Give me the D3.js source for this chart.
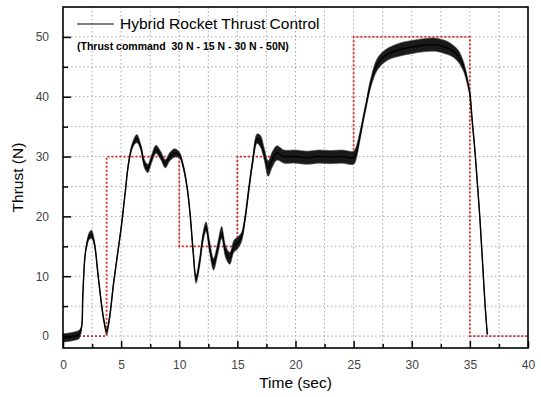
<!DOCTYPE html>
<html>
<head>
<meta charset="utf-8">
<script src="https://cdn.jsdelivr.net/npm/d3@7"></script>
<style>
  body { margin: 0; background: #fff; }
  svg { font-family: "Liberation Sans", Arial, sans-serif; }
</style>
</head>
<body>
<svg width="541" height="397"></svg>
<script>
// thrust trace (sec, N) + half width of the noise band
const time = [0, 0.5, 1.0, 1.4, 1.6, 1.7, 1.9, 2.1, 2.25, 2.45, 2.7, 3.0, 3.3, 3.5, 3.75, 4.0, 4.35, 4.7, 5.05, 5.35, 5.65,
  6.0, 6.35, 6.7, 7.0, 7.3, 7.6, 8.0, 8.4, 8.8, 9.2, 9.6, 10.0, 10.35, 10.7, 10.95, 11.2, 11.45, 11.8, 12.0, 12.3,
  12.6, 12.95, 13.3, 13.65, 14.0, 14.35, 14.7, 15.0, 15.35, 15.65, 15.95, 16.3, 16.7, 17.0, 17.3, 17.65, 18.0, 18.4,
  19.0, 20.0, 21.0, 22.0, 23.0, 24.0, 25.0, 25.2, 25.5, 25.8, 26.1, 26.5, 27.0, 27.5, 28.0, 29.0, 30.0, 31.0, 32.0,
  33.0, 33.5, 34.0, 34.5, 34.8, 35.0, 35.2, 35.45, 35.87, 36.3, 36.5];
const thrust = [-0.3, -0.2, 0.0, 0.3, 1.5, 6.5, 13.5, 15.8, 16.7, 17.0, 15.5, 10.5, 5.5, 2.8, 0.7, 3.0, 8.8, 13.8, 18.8, 24.0, 29.0,
  32.0, 33.0, 31.5, 28.8, 28.0, 29.5, 31.2, 30.2, 28.8, 30.0, 30.6, 30.3, 28.3, 24.5, 20.0, 14.0, 9.5, 13.0, 16.0, 18.3,
  15.0, 12.0, 14.5, 17.3, 14.0, 13.0, 15.0, 15.5, 16.5, 19.5, 24.0, 29.0, 33.0, 32.5, 30.5, 28.0, 29.5, 30.6,
  30.0, 30.0, 29.8, 30.0, 29.9, 30.0, 29.8, 30.5, 33.0, 36.0, 38.9, 42.5, 45.3, 46.5, 47.2, 47.9, 48.3, 48.6, 48.7,
  48.2, 47.7, 46.8, 44.8, 42.5, 40.5, 36.0, 30.6, 19.4, 5.4, 0.3];
const noise = [0.7, 0.7, 0.7, 0.7, 0.3, 0.25, 0.3, 0.5, 0.6, 0.7, 0.5, 0.3, 0.25, 0.3, 0.5, 0.3, 0.25, 0.25, 0.25, 0.25, 0.3,
  0.5, 0.7, 0.5, 0.7, 0.7, 0.7, 0.7, 0.7, 0.7, 0.7, 0.7, 0.5, 0.4, 0.3, 0.4, 0.5, 0.7, 0.8, 0.8, 0.8,
  1.0, 1.0, 1.0, 1.0, 1.0, 1.0, 1.0, 1.0, 0.8, 0.6, 0.6, 0.6, 0.8, 1.0, 1.0, 1.3, 1.3, 1.2,
  1.1, 1.1, 1.1, 1.1, 1.1, 1.1, 1.1, 1.1, 0.8, 0.6, 0.6, 0.8, 1.0, 1.0, 1.0, 1.1, 1.1, 1.1, 1.1,
  1.1, 1.0, 1.0, 0.8, 0.6, 0.5, 0.3, 0.25, 0.25, 0.2, 0.1];

// thrust command steps
const cmdTime = [0, 3.75, 3.75, 10, 10, 15, 15, 25, 25, 35, 35, 40];
const cmdValue = [0, 0, 30, 30, 15, 15, 30, 30, 50, 50, 0, 0];

const xTicks = [0, 5, 10, 15, 20, 25, 30, 35, 40];
const yTicks = [0, 10, 20, 30, 40, 50];

const svg = d3.select('svg');
const m = { left: 63, right: 528, top: 7, bottom: 348 };

const x = d3.scaleLinear().domain([0, 40]).range([m.left, m.right]);
const y = d3.scaleLinear().domain([-2, 55]).range([m.bottom, m.top]);

// grid
const grid = svg.append('g')
  .attr('stroke', '#a8a8a8')
  .attr('stroke-width', 1)
  .attr('stroke-dasharray', '1.5,2.5');
grid.selectAll('.gx')
  .data(d3.range(2.5, 40, 2.5))
  .join('line')
  .attr('x1', (d) => x(d)).attr('x2', (d) => x(d))
  .attr('y1', m.top).attr('y2', m.bottom);
grid.selectAll('.gy')
  .data(d3.range(0, 55, 5))
  .join('line')
  .attr('y1', (d) => y(d)).attr('y2', (d) => y(d))
  .attr('x1', m.left).attr('x2', m.right);

// command (red dotted)
svg.append('path')
  .datum(d3.zip(cmdTime, cmdValue))
  .attr('fill', 'none')
  .attr('stroke', '#d42a2a')
  .attr('stroke-width', 1.8)
  .attr('stroke-dasharray', '2,2')
  .attr('d', d3.line().x((d) => x(d[0])).y((d) => y(d[1])));

// measured thrust: noise band + centre line
const pts = time.map((t, i) => ({ t: t, v: thrust[i], n: noise[i] }));
svg.append('path')
  .datum(pts)
  .attr('fill', '#1a1a1a')
  .attr('stroke', '#555')
  .attr('stroke-width', 0.6)
  .attr('d', d3.area()
    .curve(d3.curveCatmullRom)
    .x((d) => x(d.t))
    .y0((d) => y(d.v - d.n))
    .y1((d) => y(d.v + d.n)));
svg.append('path')
  .datum(pts)
  .attr('fill', 'none')
  .attr('stroke', '#000')
  .attr('stroke-width', 1.4)
  .attr('d', d3.line()
    .curve(d3.curveCatmullRom)
    .x((d) => x(d.t))
    .y((d) => y(d.v)));

// axes with inward ticks
svg.append('g')
  .attr('transform', `translate(0,${m.bottom})`)
  .call(d3.axisBottom(x).tickValues(xTicks).tickSize(-7).tickPadding(12));
svg.append('g')
  .attr('transform', `translate(0,${m.bottom})`)
  .call(d3.axisBottom(x).tickValues(d3.range(2.5, 40, 5)).tickSize(-4).tickFormat(''));
svg.append('g')
  .attr('transform', `translate(${m.left},0)`)
  .call(d3.axisLeft(y).tickValues(yTicks).tickSize(-8).tickPadding(14));
svg.append('g')
  .attr('transform', `translate(${m.left},0)`)
  .call(d3.axisLeft(y).tickValues(d3.range(5, 55, 10)).tickSize(-5).tickFormat(''));

svg.selectAll('.tick line').attr('stroke', '#000').attr('stroke-width', 1.5);
svg.selectAll('.domain').remove();
svg.selectAll('.tick text')
  .attr('font-size', 12)
  .attr('fill', '#444')
  .attr('font-family', '"Liberation Sans", Arial, sans-serif');

// frame
svg.append('rect')
  .attr('x', m.left).attr('y', m.top)
  .attr('width', m.right - m.left).attr('height', m.bottom - m.top)
  .attr('fill', 'none')
  .attr('stroke', '#000')
  .attr('stroke-width', 1.6);

// axis titles
svg.append('text')
  .attr('x', (m.left + m.right) / 2).attr('y', 388)
  .attr('text-anchor', 'middle')
  .attr('font-size', 15.5)
  .text('Time (sec)');
svg.append('text')
  .attr('transform', `translate(23,${(m.top + m.bottom) / 2}) rotate(-90)`)
  .attr('text-anchor', 'middle')
  .attr('font-size', 15.5)
  .text('Thrust (N)');

// legend
svg.append('line')
  .attr('x1', 77).attr('x2', 114)
  .attr('y1', 24).attr('y2', 24)
  .attr('stroke', '#000').attr('stroke-width', 1);
svg.append('text')
  .attr('x', 120).attr('y', 29)
  .attr('font-size', 15.5)
  .text('Hybrid Rocket Thrust Control');
svg.append('text')
  .attr('x', 77).attr('y', 50)
  .attr('font-size', 10.5)
  .attr('font-weight', 'bold')
  .style('white-space', 'pre')
  .text('(Thrust command  30 N - 15 N - 30 N - 50N)');
</script>
</body>
</html>
